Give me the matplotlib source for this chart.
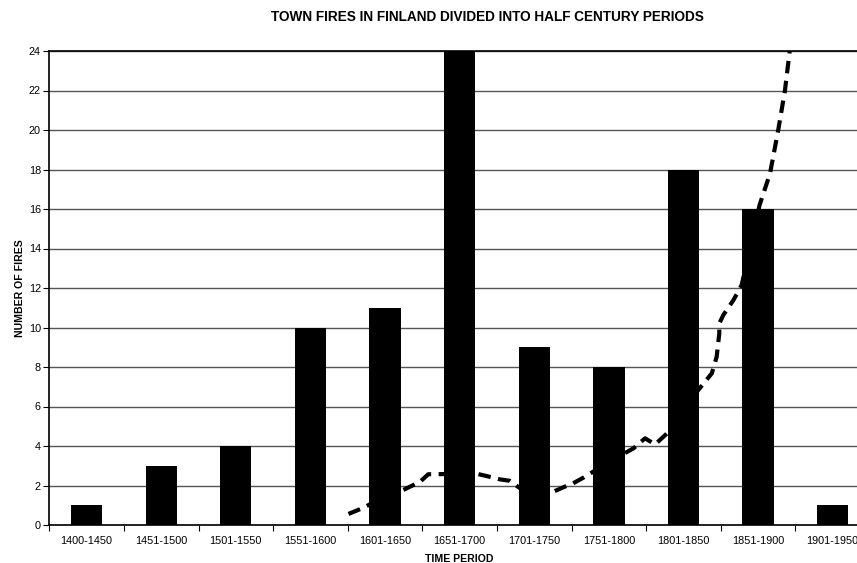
import matplotlib
matplotlib.use("Agg")
import matplotlib.pyplot as plt
import numpy as np

periods = ["1400-1450", "1451-1500", "1501-1550", "1551-1600", "1601-1650",
           "1651-1700", "1701-1750", "1751-1800", "1801-1850", "1851-1900", "1901-1950"]
fires = [1, 3, 4, 10, 11, 24, 9, 8, 18, 16, 1]

# dashed trend line, x in category units (0 = first category centre)
trend_x = [3.51, 3.69, 3.80, 4.20, 4.47, 4.58, 4.69, 5.20, 5.36, 5.54, 5.67, 5.81,
           6.235, 6.39, 6.52, 6.66, 6.79, 7.19, 7.33, 7.485, 7.62, 7.78,
           8.20, 8.38, 8.445, 8.48, 8.48, 8.534, 8.67, 8.78, 9.02, 9.16, 9.27, 9.36, 9.43]
trend_y = [0.56, 0.84, 1.05, 1.69, 2.19, 2.57, 2.57, 2.62, 2.48, 2.31, 2.24, 1.86,
           1.65, 1.91, 2.11, 2.40, 2.70, 3.59, 3.88, 4.39, 4.08, 4.64,
           6.84, 7.68, 8.52, 9.7, 10.2, 10.63, 11.39, 12.15, 16.2, 17.8, 20.0, 22.0, 24.2]

plt.rcParams['font.family'] = ['Liberation Sans', 'DejaVu Sans']

fig = plt.figure(figsize=(8.57, 5.63), dpi=100)
left = 49.3 / 857
right = 870 / 857
bottom = (563 - 525) / 563
top = (563 - 51) / 563
ax = fig.add_axes([left, bottom, right - left, top - bottom])

x = np.arange(len(periods))
ax.plot(trend_x, trend_y, color='black', lw=3, dashes=(3.0, 1.8),
        solid_capstyle='butt', dash_capstyle='butt', zorder=2, clip_on=True)
ax.bar(x, fires, width=0.42, color='black', zorder=3)

ax.set_xlim(-0.5, 10.5)
ax.set_ylim(0, 24)
ax.set_yticks(np.arange(0, 25, 2))
ax.yaxis.grid(True, color='#555555', lw=1)
ax.set_axisbelow(True)

ax.set_xticks(x)
ax.set_xticklabels(periods, fontsize=7.8)
ax.set_xticks(np.arange(-0.5, 11, 1), minor=True)
ax.tick_params(axis='x', which='major', length=0, pad=8)
ax.tick_params(axis='x', which='minor', length=4, width=0.8, direction='out')
ax.tick_params(axis='y', labelsize=7.8, length=4, width=0.8, pad=2)

ax.spines['right'].set_visible(False)
ax.spines['top'].set_color('black')
for s in ['left', 'bottom', 'top']:
    ax.spines[s].set_linewidth(1.2)

ax.set_ylabel("NUMBER OF FIRES", fontsize=7.6, fontweight='bold', labelpad=2.5)
ax.set_xlabel("TIME PERIOD", fontsize=7.6, fontweight='bold', labelpad=6)

fig.text(487.5 / 857, 1 - 17 / 563, "TOWN FIRES IN FINLAND DIVIDED INTO HALF CENTURY PERIODS",
         ha='center', va='center', fontsize=9.8, fontweight='bold')

fig.savefig("out.png", dpi=100)
